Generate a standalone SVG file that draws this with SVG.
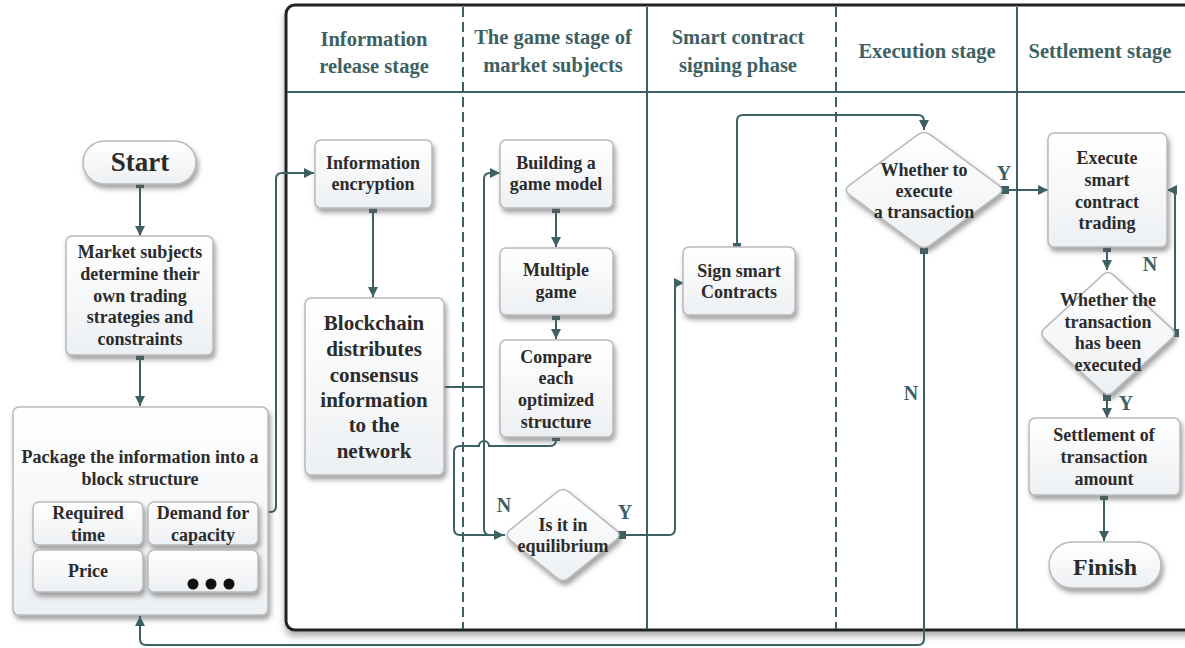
<svg xmlns="http://www.w3.org/2000/svg" width="1185" height="648" viewBox="0 0 1185 648">
<defs>
<linearGradient id="nodeFill" x1="0" y1="0" x2="0" y2="1">
<stop offset="0" stop-color="#ffffff"/>
<stop offset="1" stop-color="#edf0f3"/>
</linearGradient>
<filter id="shadow" x="-20%" y="-20%" width="140%" height="150%">
<feDropShadow dx="2" dy="4" stdDeviation="2.5" flood-color="#555" flood-opacity="0.55"/>
</filter>
<filter id="frameShadow" x="-5%" y="-5%" width="110%" height="110%">
<feDropShadow dx="0" dy="5" stdDeviation="3" flood-color="#666" flood-opacity="0.5"/>
</filter>
<marker id="arrow" viewBox="0 0 10 10" refX="10" refY="5" markerWidth="10" markerHeight="10" markerUnits="userSpaceOnUse" orient="auto">
<path d="M0,0 L10,5 L0,10 Z" fill="#3d6163"/>
</marker>
<marker id="sq" viewBox="0 0 10 10" refX="5" refY="5" markerWidth="8" markerHeight="8" markerUnits="userSpaceOnUse" orient="auto">
<rect x="0" y="0" width="10" height="10" fill="#3d6163"/>
</marker>
</defs>
<style>
.node{fill:url(#nodeFill);stroke:#b9b9b9;stroke-width:1.5;filter:url(#shadow)}
.t{font-family:"Liberation Serif","Times New Roman",serif;font-weight:bold;font-size:18px;fill:#2b2b2b;text-anchor:middle}
.big{font-size:21px}
.hd{font-family:"Liberation Serif","Times New Roman",serif;font-weight:bold;font-size:20.5px;fill:#3d6163;text-anchor:middle}
.lbl{font-family:"Liberation Serif","Times New Roman",serif;font-weight:bold;font-size:20px;fill:#3d6163;text-anchor:middle}
.conn{fill:none;stroke:#3d6163;stroke-width:2}
.lane{stroke:#3d6163;stroke-width:2;fill:none}
.dash{stroke-dasharray:10 5}
</style>
<rect width="1185" height="648" fill="#ffffff"/>

<g id="frame">
<rect x="286" y="5" width="930" height="625" rx="9" fill="#ffffff" stroke="#222" stroke-width="3" filter="url(#frameShadow)"/>
<line class="lane" x1="287" y1="92" x2="1185" y2="92"/>
<line class="lane dash" x1="463" y1="7" x2="463" y2="629"/>
<line class="lane" x1="647" y1="7" x2="647" y2="629"/>
<line class="lane dash" x1="836" y1="7" x2="836" y2="629"/>
<line class="lane" x1="1017" y1="7" x2="1017" y2="629"/>
<text class="hd" x="374" y="46">Information</text>
<text class="hd" x="374" y="73">release stage</text>
<text class="hd" x="553" y="44">The game stage of</text>
<text class="hd" x="553" y="72">market subjects</text>
<text class="hd" x="738" y="44">Smart contract</text>
<text class="hd" x="738" y="72">signing phase</text>
<text class="hd" x="927" y="58">Execution stage</text>
<text class="hd" x="1100" y="58">Settlement stage</text>
</g>

<g id="connectors">
<path class="conn" d="M140,184 V236" marker-start="url(#sq)" marker-end="url(#arrow)"/>
<path class="conn" d="M140,356 V406" marker-start="url(#sq)" marker-end="url(#arrow)"/>
<path class="conn" d="M263,512 H270 Q276,512 276,506 V179 Q276,173 282,173 H314" marker-start="url(#sq)" marker-end="url(#arrow)"/>
<path class="conn" d="M373,209 V297" marker-start="url(#sq)" marker-end="url(#arrow)"/>
<path class="conn" d="M443,387 H484"/>
<path class="conn" d="M505,535 H490 Q484,535 484,529 V179 Q484,173 490,173 H500" marker-end="url(#arrow)"/>
<path class="conn" d="M556,437 V440 Q556,446 550,446 H489 A5,5 0 0 0 479,446 H460 Q454,446 454,452 V529 Q454,535 460,535 H504" marker-start="url(#sq)" marker-end="url(#arrow)"/>
<path class="conn" d="M556,209 V247" marker-start="url(#sq)" marker-end="url(#arrow)"/>
<path class="conn" d="M556,316 V339" marker-start="url(#sq)" marker-end="url(#arrow)"/>
<path class="conn" d="M622,535 H669 Q675,535 675,529 V289 Q675,283 681,283 H684" marker-start="url(#sq)" marker-end="url(#arrow)"/>
<path class="conn" d="M737,247 V121 Q737,115 743,115 H918 Q924,115 924,121 V130" marker-start="url(#sq)" marker-end="url(#arrow)"/>
<path class="conn" d="M1005,190 H1048" marker-start="url(#sq)" marker-end="url(#arrow)"/>
<path class="conn" d="M924,250 V639 Q924,645 918,645 H146 Q140,645 140,639 V616" marker-start="url(#sq)" marker-end="url(#arrow)"/>
<path class="conn" d="M1107,248 V270" marker-start="url(#sq)" marker-end="url(#arrow)"/>
<path class="conn" d="M1175,333 V196 Q1175,190 1169,190 H1167" marker-start="url(#sq)" marker-end="url(#arrow)"/>
<path class="conn" d="M1107,397 V418" marker-start="url(#sq)" marker-end="url(#arrow)"/>
<path class="conn" d="M1104,496 V541" marker-start="url(#sq)" marker-end="url(#arrow)"/>
<text class="lbl" x="504" y="512">N</text>
<text class="lbl" x="625" y="519">Y</text>
<text class="lbl" x="1004" y="180">Y</text>
<text class="lbl" x="911" y="400">N</text>
<text class="lbl" x="1150" y="271">N</text>
<text class="lbl" x="1126" y="410">Y</text>
</g>

<g id="start">
<rect class="node" x="83" y="141" width="113" height="43" rx="21.5"/>
<text class="t" style="font-size:27px" x="140" y="171">Start</text>
</g>

<g id="market-subjects">
<rect class="node" x="66" y="236" width="147" height="119" rx="6"/>
<text class="t" x="140" y="258">Market subjects</text>
<text class="t" x="140" y="280">determine their</text>
<text class="t" x="140" y="302">own trading</text>
<text class="t" x="140" y="323">strategies and</text>
<text class="t" x="140" y="345">constraints</text>
</g>

<g id="package">
<rect class="node" x="13" y="407" width="255" height="208" rx="6"/>
<text class="t" x="140" y="463">Package the information into a</text>
<text class="t" x="140" y="485">block structure</text>
<g id="required-time">
<rect class="node" x="33" y="502" width="110" height="43" rx="6"/>
<text class="t" x="88" y="519">Required</text>
<text class="t" x="88" y="541">time</text>
</g>
<g id="demand">
<rect class="node" x="148" y="502" width="110" height="43" rx="6"/>
<text class="t" x="203" y="519">Demand for</text>
<text class="t" x="203" y="541">capacity</text>
</g>
<g id="price">
<rect class="node" x="33" y="550" width="110" height="42" rx="6"/>
<text class="t" x="88" y="577">Price</text>
</g>
<g id="more">
<rect class="node" x="148" y="550" width="110" height="42" rx="6"/>
<circle cx="193" cy="584" r="5.5" fill="#111"/>
<circle cx="211" cy="584" r="5.5" fill="#111"/>
<circle cx="229" cy="584" r="5.5" fill="#111"/>
</g>
</g>

<g id="info-encryption">
<rect class="node" x="315" y="140" width="117" height="68" rx="6"/>
<text class="t" x="373" y="169">Information</text>
<text class="t" x="373" y="190">encryption</text>
</g>

<g id="blockchain">
<rect class="node" x="305" y="298" width="139" height="177" rx="6"/>
<text class="t big" x="374" y="330">Blockchain</text>
<text class="t big" x="374" y="356">distributes</text>
<text class="t big" x="374" y="382">consensus</text>
<text class="t big" x="374" y="407">information</text>
<text class="t big" x="374" y="432">to the</text>
<text class="t big" x="374" y="458">network</text>
</g>

<g id="building-model">
<rect class="node" x="500" y="140" width="113" height="68" rx="6"/>
<text class="t" x="556" y="169">Building a</text>
<text class="t" x="556" y="190">game model</text>
</g>

<g id="multiple-game">
<rect class="node" x="500" y="248" width="113" height="67" rx="6"/>
<text class="t" x="556" y="276">Multiple</text>
<text class="t" x="556" y="298">game</text>
</g>

<g id="compare">
<rect class="node" x="500" y="340" width="113" height="97" rx="6"/>
<text class="t" x="556" y="363">Compare</text>
<text class="t" x="556" y="384">each</text>
<text class="t" x="556" y="406">optimized</text>
<text class="t" x="556" y="428">structure</text>
</g>

<g id="equilibrium">
<path class="node" d="M568.9,491.8 L616.1,530.2 Q622,535 616.1,539.8 L568.9,578.2 Q563,583 557.1,578.2 L509.9,539.8 Q504,535 509.9,530.2 L557.1,491.8 Q563,487 568.9,491.8 Z"/>
<text class="t" x="563" y="531">Is it in</text>
<text class="t" x="563" y="552">equilibrium</text>
</g>

<g id="sign-contracts">
<rect class="node" x="683" y="247" width="112" height="68" rx="6"/>
<text class="t" x="739" y="277">Sign smart</text>
<text class="t" x="739" y="298">Contracts</text>
</g>

<g id="whether-execute">
<path class="node" d="M930.5,134.8 L998.5,185.2 Q1005,190 998.5,194.8 L930.5,245.2 Q924,250 917.5,245.2 L849.5,194.8 Q843,190 849.5,185.2 L917.5,134.8 Q924,130 930.5,134.8 Z"/>
<text class="t" x="924" y="176">Whether to</text>
<text class="t" x="924" y="197">execute</text>
<text class="t" x="924" y="218">a transaction</text>
</g>

<g id="execute-trading">
<rect class="node" x="1048" y="133" width="119" height="114" rx="6"/>
<text class="t" x="1107" y="164">Execute</text>
<text class="t" x="1107" y="186">smart</text>
<text class="t" x="1107" y="208">contract</text>
<text class="t" x="1107" y="229">trading</text>
</g>

<g id="whether-executed">
<path class="node" d="M1113.5,275.1 L1171.5,328.4 Q1177,333.5 1171.5,338.6 L1113.5,391.9 Q1108,397 1102.5,391.9 L1044.5,338.6 Q1039,333.5 1044.5,328.4 L1102.5,275.1 Q1108,270 1113.5,275.1 Z"/>
<text class="t" x="1108" y="306">Whether the</text>
<text class="t" x="1108" y="328">transaction</text>
<text class="t" x="1108" y="349">has been</text>
<text class="t" x="1108" y="371">executed</text>
</g>

<g id="settlement">
<rect class="node" x="1029" y="418" width="151" height="77" rx="6"/>
<text class="t" x="1104" y="441">Settlement of</text>
<text class="t" x="1104" y="463">transaction</text>
<text class="t" x="1104" y="485">amount</text>
</g>

<g id="finish">
<rect class="node" x="1049" y="542" width="112" height="46" rx="23"/>
<text class="t" style="font-size:24px" x="1105" y="575">Finish</text>
</g>
</svg>
